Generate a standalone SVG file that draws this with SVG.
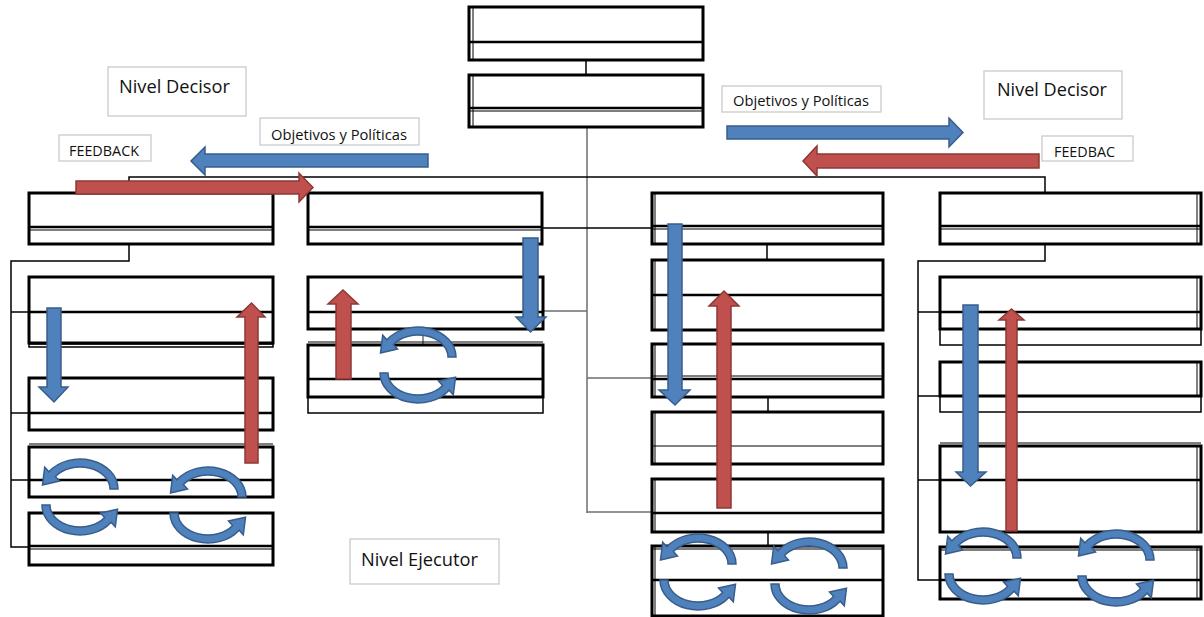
<svg xmlns="http://www.w3.org/2000/svg" xmlns:xlink="http://www.w3.org/1999/xlink" width="1204" height="617" viewBox="0 0 1204 617">
<style>
.b{fill:#fff;stroke:#000;stroke-width:3}
.bt{fill:#fff;stroke:#000;stroke-width:1.5}
.dv{stroke:#000;stroke-width:2.5}
.tn{stroke:#000;stroke-width:1}
.ln{stroke:#000;stroke-width:1.5;fill:none}
.lg{stroke:#6e6e6e;stroke-width:1.5;fill:none}
.lb{fill:#fff;stroke:#c6c6c6;stroke-width:1.2}
.tx{font-family:"Open Sans","Liberation Sans",Arial,sans-serif;fill:#111}
.ab{fill:#4f81bd;stroke:#385d8a;stroke-width:1.5}
.ar{fill:#c0504d;stroke:#8c3836;stroke-width:1.5}
</style>
<defs>
<g id="cyc">
<path class="ab" d="M78 30 A38 30 0 0 0 8.9 12.8 L4.7 8.2 L2.5 26 L19.5 22 L15.4 17.4 A30 22 0 0 1 70 30 Z"/>
<path class="ab" d="M2 46 A38 30 0 0 0 71.1 63.2 L75.3 67.8 L77.5 50.3 L60.5 54 L64.6 58.6 A30 22 0 0 1 10 46 Z"/>
</g>
</defs>
<rect width="1204" height="617" fill="#fff"/>

<g id="connectors">
<line class="ln" x1="586" y1="60" x2="586" y2="75"/>
<line class="lg" x1="587" y1="127" x2="587" y2="513"/>
<polyline class="ln" points="129,193 129,177 1045,177 1045,193"/>
<line class="ln" x1="543" y1="228" x2="652" y2="228"/>
<line class="lg" x1="543" y1="311" x2="587" y2="311"/>
<line class="lg" x1="587" y1="378" x2="652" y2="378"/>
<line class="lg" x1="587" y1="512" x2="652" y2="512"/>
<line class="ln" x1="767" y1="244" x2="767" y2="260"/>
<line class="ln" x1="768" y1="397" x2="768" y2="412"/>
<line class="ln" x1="768" y1="532" x2="768" y2="546"/>
<line class="lg" x1="423" y1="329" x2="423" y2="344"/>
<polyline class="ln" points="129,244 129,261 11,261 11,547 29,547"/>
<line class="ln" x1="11" y1="312" x2="29" y2="312"/>
<line class="ln" x1="11" y1="413" x2="29" y2="413"/>
<line class="ln" x1="11" y1="480" x2="29" y2="480"/>
<polyline class="ln" points="1045,244 1045,261 918,261 918,580 940,580"/>
<line class="ln" x1="918" y1="312" x2="940" y2="312"/>
<line class="ln" x1="918" y1="396" x2="940" y2="396"/>
<line class="ln" x1="918" y1="480" x2="940" y2="480"/>
</g>

<g id="top1"><rect class="b" x="469" y="7" width="234" height="53"/><line class="tn" x1="473" y1="8" x2="473" y2="59"/><line class="dv" x1="469" y1="42" x2="703" y2="42"/></g>
<g id="top2"><rect class="b" x="469" y="75" width="234" height="52"/><line class="tn" x1="473" y1="76" x2="473" y2="126"/><line class="dv" x1="469" y1="108" x2="703" y2="108"/><line class="tn" x1="469" y1="111" x2="703" y2="111"/></g>

<g id="boxA"><rect class="b" x="29" y="193" width="244" height="51"/><line class="dv" x1="29" y1="227" x2="273" y2="227"/><line class="tn" x1="29" y1="230" x2="273" y2="230"/></g>
<g id="boxB"><rect class="b" x="308" y="193" width="234" height="51"/><line class="dv" x1="308" y1="227" x2="542" y2="227"/><line class="tn" x1="308" y1="230" x2="542" y2="230"/></g>
<g id="boxC"><rect class="b" x="652" y="193" width="231" height="51"/><line class="tn" x1="655" y1="194" x2="655" y2="243"/><line class="dv" x1="652" y1="226" x2="883" y2="226"/><line class="tn" x1="652" y1="229" x2="883" y2="229"/></g>
<g id="boxD"><rect class="b" x="940" y="193" width="261" height="51"/><line class="tn" x1="1197" y1="194" x2="1197" y2="243"/><line class="dv" x1="940" y1="226" x2="1201" y2="226"/><line class="tn" x1="940" y1="229" x2="1201" y2="229"/></g>

<g id="boxA1"><rect class="bt" x="29" y="344" width="244" height="3"/><rect class="b" x="29" y="277" width="244" height="66"/><line class="dv" x1="29" y1="312" x2="273" y2="312"/></g>
<g id="boxA2"><rect class="b" x="29" y="378" width="244" height="52"/><line class="dv" x1="29" y1="413" x2="273" y2="413"/></g>
<g id="boxA3"><rect class="b" x="29" y="447" width="244" height="50"/><line class="tn" x1="29" y1="444" x2="273" y2="444"/><line class="dv" x1="29" y1="480" x2="273" y2="480"/></g>
<g id="boxA4"><rect class="b" x="29" y="513" width="244" height="52"/><line class="dv" x1="29" y1="546" x2="273" y2="546"/><line class="tn" x1="29" y1="549" x2="273" y2="549"/></g>

<g id="boxB1"><rect class="b" x="308" y="277" width="235" height="52"/><line class="dv" x1="308" y1="312" x2="543" y2="312"/></g>
<g id="boxB2"><rect class="bt" x="308" y="397" width="235" height="16"/><rect class="b" x="308" y="345" width="235" height="52"/><line class="tn" x1="308" y1="342" x2="543" y2="342"/><line class="dv" x1="308" y1="379" x2="543" y2="379"/></g>

<g id="boxC1"><rect class="b" x="652" y="260" width="231" height="70"/><line class="tn" x1="655" y1="261" x2="655" y2="329"/><line class="dv" x1="652" y1="295" x2="883" y2="295"/></g>
<g id="boxC2"><rect class="b" x="652" y="344" width="231" height="53"/><line class="tn" x1="655" y1="345" x2="655" y2="396"/><line class="tn" x1="652" y1="376" x2="883" y2="376"/><line class="dv" x1="652" y1="379" x2="883" y2="379"/></g>
<g id="boxC3"><rect class="b" x="652" y="412" width="231" height="52"/><line class="tn" x1="655" y1="413" x2="655" y2="463"/><line class="tn" x1="652" y1="446" x2="883" y2="446"/></g>
<g id="boxC4"><rect class="b" x="652" y="479" width="231" height="53"/><line class="tn" x1="655" y1="480" x2="655" y2="531"/><line class="dv" x1="652" y1="513" x2="883" y2="513"/></g>
<g id="boxC5"><rect class="b" x="652" y="546" width="231" height="70"/><line class="tn" x1="655" y1="547" x2="655" y2="615"/><line class="tn" x1="652" y1="549" x2="883" y2="549"/><line class="dv" x1="652" y1="580" x2="883" y2="580"/></g>

<g id="boxD1"><rect class="bt" x="940" y="329" width="261" height="16"/><rect class="b" x="940" y="277" width="261" height="52"/><line class="tn" x1="1197" y1="278" x2="1197" y2="328"/><line class="dv" x1="940" y1="312" x2="1201" y2="312"/></g>
<g id="boxD2"><rect class="bt" x="940" y="396" width="261" height="16"/><rect class="b" x="940" y="362" width="261" height="34"/><line class="tn" x1="1197" y1="363" x2="1197" y2="395"/></g>
<g id="boxD3"><rect class="b" x="940" y="446" width="261" height="86"/><line class="tn" x1="940" y1="443" x2="1201" y2="443"/><line class="tn" x1="1197" y1="447" x2="1197" y2="531"/><line class="dv" x1="940" y1="480" x2="1201" y2="480"/></g>
<g id="boxD4"><rect class="b" x="940" y="547" width="261" height="52"/><line class="tn" x1="940" y1="550" x2="1201" y2="550"/><line class="tn" x1="1197" y1="548" x2="1197" y2="598"/><line class="dv" x1="940" y1="580" x2="1201" y2="580"/></g>

<g id="lblDecisorL"><rect class="lb" x="108" y="67" width="138" height="49"/><text class="tx" x="119" y="93" font-size="18" textLength="111" lengthAdjust="spacingAndGlyphs">Nivel Decisor</text></g>
<g id="lblObjL"><rect class="lb" x="260" y="118" width="159" height="27"/><text class="tx" x="271" y="140" font-size="15" textLength="136" lengthAdjust="spacingAndGlyphs">Objetivos y Políticas</text></g>
<g id="lblFeedL"><rect class="lb" x="59" y="135" width="92" height="26"/><text class="tx" x="69" y="156" font-size="14" textLength="70" lengthAdjust="spacingAndGlyphs">FEEDBACK</text></g>
<g id="lblObjR"><rect class="lb" x="722" y="86" width="159" height="26"/><text class="tx" x="733" y="106" font-size="15" textLength="136" lengthAdjust="spacingAndGlyphs">Objetivos y Políticas</text></g>
<g id="lblDecisorR"><rect class="lb" x="984" y="71" width="138" height="48"/><text class="tx" x="997" y="96" font-size="18" textLength="110" lengthAdjust="spacingAndGlyphs">Nivel Decisor</text></g>
<g id="lblFeedR"><rect class="lb" x="1042" y="136" width="91" height="25"/><text class="tx" x="1054" y="157" font-size="14" textLength="61" lengthAdjust="spacingAndGlyphs">FEEDBAC</text></g>
<g id="lblEjecutor"><rect class="lb" x="350" y="539" width="149" height="45"/><text class="tx" x="361" y="566" font-size="18" textLength="117" lengthAdjust="spacingAndGlyphs">Nivel Ejecutor</text></g>

<g id="arrows">
<polygon class="ab" points="428,154 205,154 205,147 191,161 205,175 205,167 428,167"/>
<polygon class="ar" points="76,181 299,181 299,173 313,187.5 299,202 299,194 76,194"/>
<polygon class="ab" points="727,126 949,126 949,118 963,132.5 949,147 949,139 727,139"/>
<polygon class="ar" points="1039,154 817,154 817,146 803,161 817,176 817,168 1039,168"/>
<polygon class="ab" points="47,308 61,308 61,387 68,387 54,402 39,387 47,387"/>
<polygon class="ar" points="245,463 258,463 258,317 265,317 251.5,303 237,317 245,317"/>
<polygon class="ab" points="523,238 538,238 538,317 546,317 530.5,332 516,317 523,317"/>
<polygon class="ar" points="336,379 351,379 351,304 358,304 343,290 328,304 336,304"/>
<polygon class="ab" points="668,224 682,224 682,390 690,390 675,405 659,390 668,390"/>
<polygon class="ar" points="717,508 731,508 731,306 739,306 724,291 709,306 717,306"/>
<polygon class="ab" points="963,305 978,305 978,472 986,472 970.5,486 956,472 963,472"/>
<polygon class="ar" points="1006,531 1017,531 1017,320 1024,320 1011.5,309 999,320 1006,320"/>
<use xlink:href="#cyc" transform="translate(40,459)"/>
<use xlink:href="#cyc" transform="translate(168,467)"/>
<use xlink:href="#cyc" transform="translate(378,327)"/>
<use xlink:href="#cyc" transform="translate(658,534)"/>
<use xlink:href="#cyc" transform="translate(769,538)"/>
<use xlink:href="#cyc" transform="translate(943,528)"/>
<use xlink:href="#cyc" transform="translate(1076,530)"/>
</g>
</svg>
